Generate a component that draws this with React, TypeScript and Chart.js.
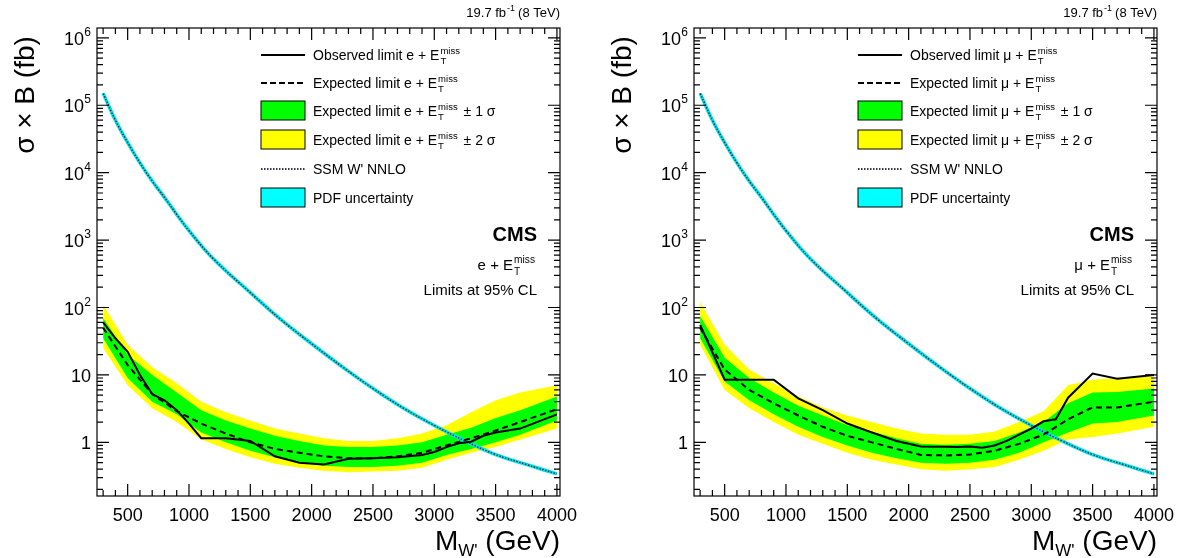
import React, { useRef, useEffect } from "react";
import Chart from "chart.js/auto";

// shared mass grid for expected limit and bands
const massGrid = [300, 500, 700, 900, 1100, 1300, 1500, 1700, 1900, 2100, 2300, 2500, 2700, 2900, 3100, 3300, 3500, 3700, 4000];

// electron channel
const eObsMass = [300, 400, 500, 600, 700, 800, 900, 1000, 1100, 1300, 1500, 1700, 1900, 2100, 2300, 2500, 2700, 2900, 3000, 3100, 3200, 3300, 3400, 3500, 3700, 4000];
const eObs = [60, 35, 22, 10, 5.2, 4.2, 3.0, 1.9, 1.15, 1.15, 1.05, 0.62, 0.5, 0.47, 0.57, 0.58, 0.6, 0.65, 0.72, 0.85, 0.97, 1.02, 1.25, 1.4, 1.6, 2.6];
const eExp = [50, 14, 5.2, 2.9, 1.9, 1.35, 1.0, 0.8, 0.7, 0.62, 0.58, 0.58, 0.62, 0.7, 0.9, 1.15, 1.5, 2.0, 3.1];
const eG_lo = [35, 9, 4, 2.6, 1.4, 1.0, 0.75, 0.6, 0.5, 0.45, 0.43, 0.43, 0.45, 0.5, 0.65, 0.8, 1.0, 1.3, 2.1];
const eG_hi = [70, 20, 10, 5.5, 3.0, 2.1, 1.6, 1.25, 1.05, 0.9, 0.85, 0.85, 0.9, 1.0, 1.3, 1.65, 2.3, 3.0, 4.8];
const eY_lo = [25, 7, 3.2, 2.0, 1.1, 0.8, 0.6, 0.48, 0.42, 0.38, 0.36, 0.37, 0.38, 0.42, 0.55, 0.7, 0.85, 1.1, 1.6];
const eY_hi = [110, 28, 13, 7.5, 4.0, 2.8, 2.1, 1.6, 1.35, 1.15, 1.05, 1.05, 1.15, 1.35, 1.8, 2.8, 4.2, 5.5, 7.0];

// muon channel
const mObsMass = [300, 500, 700, 900, 1100, 1300, 1500, 1700, 1900, 2100, 2300, 2400, 2500, 2600, 2700, 2800, 2900, 3000, 3100, 3200, 3300, 3500, 3700, 4000];
const mObs = [55, 8.5, 8.5, 8.5, 4.5, 3.0, 1.9, 1.4, 1.05, 0.87, 0.86, 0.85, 0.87, 0.83, 0.9, 1.05, 1.3, 1.6, 2.05, 2.2, 4.6, 10.5, 8.8, 10];
const mExp = [50, 12, 6, 3.8, 2.5, 1.7, 1.25, 1.0, 0.8, 0.65, 0.64, 0.66, 0.75, 0.95, 1.3, 2.2, 3.3, 3.3, 4.0];
const mG_lo = [35, 8, 4.2, 2.6, 1.7, 1.2, 0.9, 0.7, 0.58, 0.5, 0.48, 0.5, 0.55, 0.7, 1.0, 1.4, 1.9, 2.0, 2.5];
const mG_hi = [75, 18, 9, 5.5, 3.5, 2.5, 1.8, 1.45, 1.15, 0.95, 0.92, 0.95, 1.05, 1.4, 2.0, 3.8, 5.5, 5.6, 6.3];
const mY_lo = [28, 6, 3.2, 2.0, 1.3, 0.95, 0.7, 0.55, 0.47, 0.4, 0.38, 0.4, 0.43, 0.55, 0.75, 1.1, 1.2, 1.35, 1.7];
const mY_hi = [120, 28, 12, 7.5, 4.8, 3.3, 2.5, 2.0, 1.6, 1.35, 1.3, 1.3, 1.45, 2.0, 2.9, 7, 8.5, 9, 9.5];

// SSM W' NNLO cross section
const ssmMass = [300, 400, 500, 600, 700, 800, 900, 1000, 1200, 1500, 1750, 2000, 2250, 2500, 2750, 3000, 3250, 3500, 3750, 4000];
const ssmXsec = [150000, 60000, 28000, 14000, 7500, 4300, 2400, 1380, 525, 166, 66, 29, 13.2, 6.3, 3.2, 1.78, 1.05, 0.66, 0.47, 0.34];

const xTickLabels = ["500", "1000", "1500", "2000", "2500", "3000", "3500", "4000"];
const yDecades = [1, 10, 100, 1000, 10000, 100000, 1000000];

const FONT = "'Liberation Sans', Arial, sans-serif";

const pts = (xs: number[], ys: number[]) => xs.map((x, i) => ({ x, y: ys[i] }));

function drawLep(ctx: CanvasRenderingContext2D, lep: string, x: number, y: number, size: number, tail: string) {
  // draws "lep + E_T^miss" + tail starting at x, baseline y
  ctx.textAlign = "left";
  ctx.font = `${size}px ${FONT}`;
  const a = lep + " + E";
  ctx.fillText(a, x, y);
  let cx = x + ctx.measureText(a).width;
  const s = size * 0.68;
  ctx.font = `${s}px ${FONT}`;
  ctx.fillText("miss", cx + 1, y - size * 0.45);
  ctx.fillText("T", cx + 1, y + size * 0.3);
  cx += ctx.measureText("miss").width + 3;
  ctx.font = `${size}px ${FONT}`;
  if (tail) ctx.fillText(tail, cx, y);
  return cx;
}

function Panel({ lep, obsMass, obs, exp, gLo, gHi, yLo, yHi }: any) {
  const chartRef = useRef<HTMLCanvasElement | null>(null);
  const chartInstance = useRef<Chart | null>(null);

  useEffect(() => {
    if (!chartRef.current) return;
    const ctx = chartRef.current.getContext("2d");

    const decor = {
      id: "decor",
      afterDraw(chart: any) {
        const c = chart.ctx;
        const { left, right, top, bottom } = chart.chartArea;
        const xs = chart.scales.x;
        const ys = chart.scales.y;
        c.save();
        c.strokeStyle = "#000";
        c.fillStyle = "#000";
        c.lineWidth = 1.2;
        c.strokeRect(left, top, right - left, bottom - top);
        c.beginPath();
        for (let m = 300; m <= 4000; m += 100) {
          const px = xs.getPixelForValue(m);
          const len = m % 500 === 0 ? 12 : 6;
          c.moveTo(px, bottom); c.lineTo(px, bottom - len);
          c.moveTo(px, top); c.lineTo(px, top + len);
        }
        for (let d = 0.1; d < 2e6; d *= 10) {
          for (let k = 1; k <= 9; k++) {
            const v = d * k;
            if (v < ys.min || v > ys.max) continue;
            const py = ys.getPixelForValue(v);
            const len = k === 1 ? 12 : 6;
            c.moveTo(left, py); c.lineTo(left + len, py);
            c.moveTo(right, py); c.lineTo(right - len, py);
          }
        }
        c.stroke();
        // x labels
        c.font = `18px ${FONT}`;
        c.textAlign = "center";
        c.textBaseline = "alphabetic";
        xTickLabels.forEach((t) => c.fillText(t, xs.getPixelForValue(Number(t)), bottom + 25));
        // y labels
        yDecades.forEach((v) => {
          const py = ys.getPixelForValue(v);
          const e = Math.round(Math.log10(v));
          c.textAlign = "right";
          if (e <= 1) {
            c.font = `18px ${FONT}`;
            c.fillText(String(v), left - 6, py + 7);
          } else {
            c.font = `12px ${FONT}`;
            c.fillText(String(e), left - 6, py - 2);
            c.font = `18px ${FONT}`;
            c.fillText("10", left - 13, py + 7);
          }
        });
        // y title
        c.save();
        c.translate(34, 95);
        c.rotate(-Math.PI / 2);
        c.font = `28px ${FONT}`;
        c.textAlign = "center";
        c.fillText("σ × B (fb)", 0, 0);
        c.restore();
        // x title
        c.font = `28px ${FONT}`;
        c.textAlign = "right";
        c.fillText(" (GeV)", right, 550);
        const gw = c.measureText(" (GeV)").width;
        c.font = `17px ${FONT}`;
        c.fillText("W'", right - gw, 556);
        const ww = c.measureText("W'").width;
        c.font = `28px ${FONT}`;
        c.fillText("M", right - gw - ww, 550);
        // lumi
        c.font = `13px ${FONT}`;
        c.fillText("(8 TeV)", right, 17);
        let lx = right - c.measureText("(8 TeV)").width - 3;
        c.font = `9px ${FONT}`;
        c.fillText("-1", lx, 11);
        lx -= c.measureText("-1").width + 1;
        c.font = `13px ${FONT}`;
        c.fillText("19.7 fb", lx, 17);
        // legend
        const rows = [60, 88, 116, 145, 174, 203];
        const lx0 = left + 164, lx1 = left + 208, tx = left + 216;
        c.lineWidth = 2;
        c.beginPath(); c.moveTo(lx0, rows[0] - 5); c.lineTo(lx1, rows[0] - 5); c.stroke();
        c.setLineDash([6, 3]);
        c.beginPath(); c.moveTo(lx0, rows[1] - 5); c.lineTo(lx1, rows[1] - 5); c.stroke();
        c.setLineDash([]);
        c.lineWidth = 1;
        c.fillStyle = "#00ff00"; c.fillRect(lx0, rows[2] - 15, lx1 - lx0, 19);
        c.strokeRect(lx0, rows[2] - 15, lx1 - lx0, 19);
        c.fillStyle = "#ffff00"; c.fillRect(lx0, rows[3] - 15, lx1 - lx0, 19);
        c.strokeRect(lx0, rows[3] - 15, lx1 - lx0, 19);
        c.setLineDash([1.5, 1.5]);
        c.strokeStyle = "#335";
        c.lineWidth = 2;
        c.beginPath(); c.moveTo(lx0, rows[4] - 5); c.lineTo(lx1, rows[4] - 5); c.stroke();
        c.setLineDash([]);
        c.strokeStyle = "#000";
        c.lineWidth = 1;
        c.fillStyle = "#00ffff"; c.fillRect(lx0, rows[5] - 15, lx1 - lx0, 19);
        c.strokeRect(lx0, rows[5] - 15, lx1 - lx0, 19);
        c.fillStyle = "#000";
        drawLep(c, "Observed limit " + lep, tx, rows[0], 14, "");
        drawLep(c, "Expected limit " + lep, tx, rows[1], 14, "");
        drawLep(c, "Expected limit " + lep, tx, rows[2], 14, " ± 1 σ");
        drawLep(c, "Expected limit " + lep, tx, rows[3], 14, " ± 2 σ");
        c.font = `14px ${FONT}`;
        c.textAlign = "left";
        c.fillText("SSM W' NNLO", tx, rows[4]);
        c.fillText("PDF uncertainty", tx, rows[5]);
        // CMS label
        c.textAlign = "right";
        c.font = `bold 20px ${FONT}`;
        c.fillText("CMS", right - 23, 241);
        c.font = `15px ${FONT}`;
        const w1 = c.measureText(lep + " + E").width;
        c.font = `${15 * 0.68}px ${FONT}`;
        const w2 = c.measureText("miss").width + 3;
        drawLep(c, lep, right - 23 - w1 - w2, 270, 15, "");
        c.font = `15px ${FONT}`;
        c.textAlign = "right";
        c.fillText("Limits at 95% CL", right - 23, 295);
        c.restore();
      },
    };

    const base = { pointRadius: 0, borderWidth: 0, tension: 0 };
    chartInstance.current = new Chart(ctx as any, {
      type: "line",
      data: {
        datasets: [
          { ...base, data: pts(massGrid, yHi), backgroundColor: "#ffff00", fill: "+1", order: 10 },
          { ...base, data: pts(massGrid, yLo), order: 10 },
          { ...base, data: pts(massGrid, gHi), backgroundColor: "#00ff00", fill: "+1", order: 9 },
          { ...base, data: pts(massGrid, gLo), order: 9 },
          { ...base, data: pts(ssmMass, ssmXsec), borderWidth: 3.5, borderColor: "#00e5ee", tension: 0.4, order: 8 },
          { ...base, data: pts(ssmMass, ssmXsec), borderWidth: 1.5, borderColor: "#223344", borderDash: [1.5, 1.5], tension: 0.4, order: 7 },
          { ...base, data: pts(massGrid, exp), borderWidth: 2, borderColor: "#000", borderDash: [6, 4], order: 6 },
          { ...base, data: pts(obsMass, obs), borderWidth: 2, borderColor: "#000", order: 5 },
        ],
      },
      options: {
        animation: false,
        responsive: false,
        layout: { padding: { left: 37, right: 37, top: 28, bottom: 0 } },
        scales: {
          x: {
            type: "linear", min: 250, max: 4025,
            grid: { display: false }, border: { display: false }, ticks: { display: false },
            afterFit: (s: any) => { s.height = 62; },
          },
          y: {
            type: "logarithmic", min: 0.16, max: 1.4e6,
            grid: { display: false }, border: { display: false }, ticks: { display: false },
            afterFit: (s: any) => { s.width = 60; },
          },
        },
        plugins: { legend: { display: false }, tooltip: { enabled: false } },
      } as any,
      plugins: [decor],
    });

    return () => {
      if (chartInstance.current) {
        chartInstance.current.destroy();
        chartInstance.current = null;
      }
    };
  }, []);

  return <canvas ref={chartRef} width={597} height={558} style={{ display: "block" }}></canvas>;
}

export default function App() {
  return (
    <div style={{ position: "fixed", left: 0, top: 0, width: 1195, height: 558, display: "flex", background: "#fff" }}>
      <Panel lep="e" obsMass={eObsMass} obs={eObs} exp={eExp} gLo={eG_lo} gHi={eG_hi} yLo={eY_lo} yHi={eY_hi} />
      <Panel lep="μ" obsMass={mObsMass} obs={mObs} exp={mExp} gLo={mG_lo} gHi={mG_hi} yLo={mY_lo} yHi={mY_hi} />
    </div>
  );
}
